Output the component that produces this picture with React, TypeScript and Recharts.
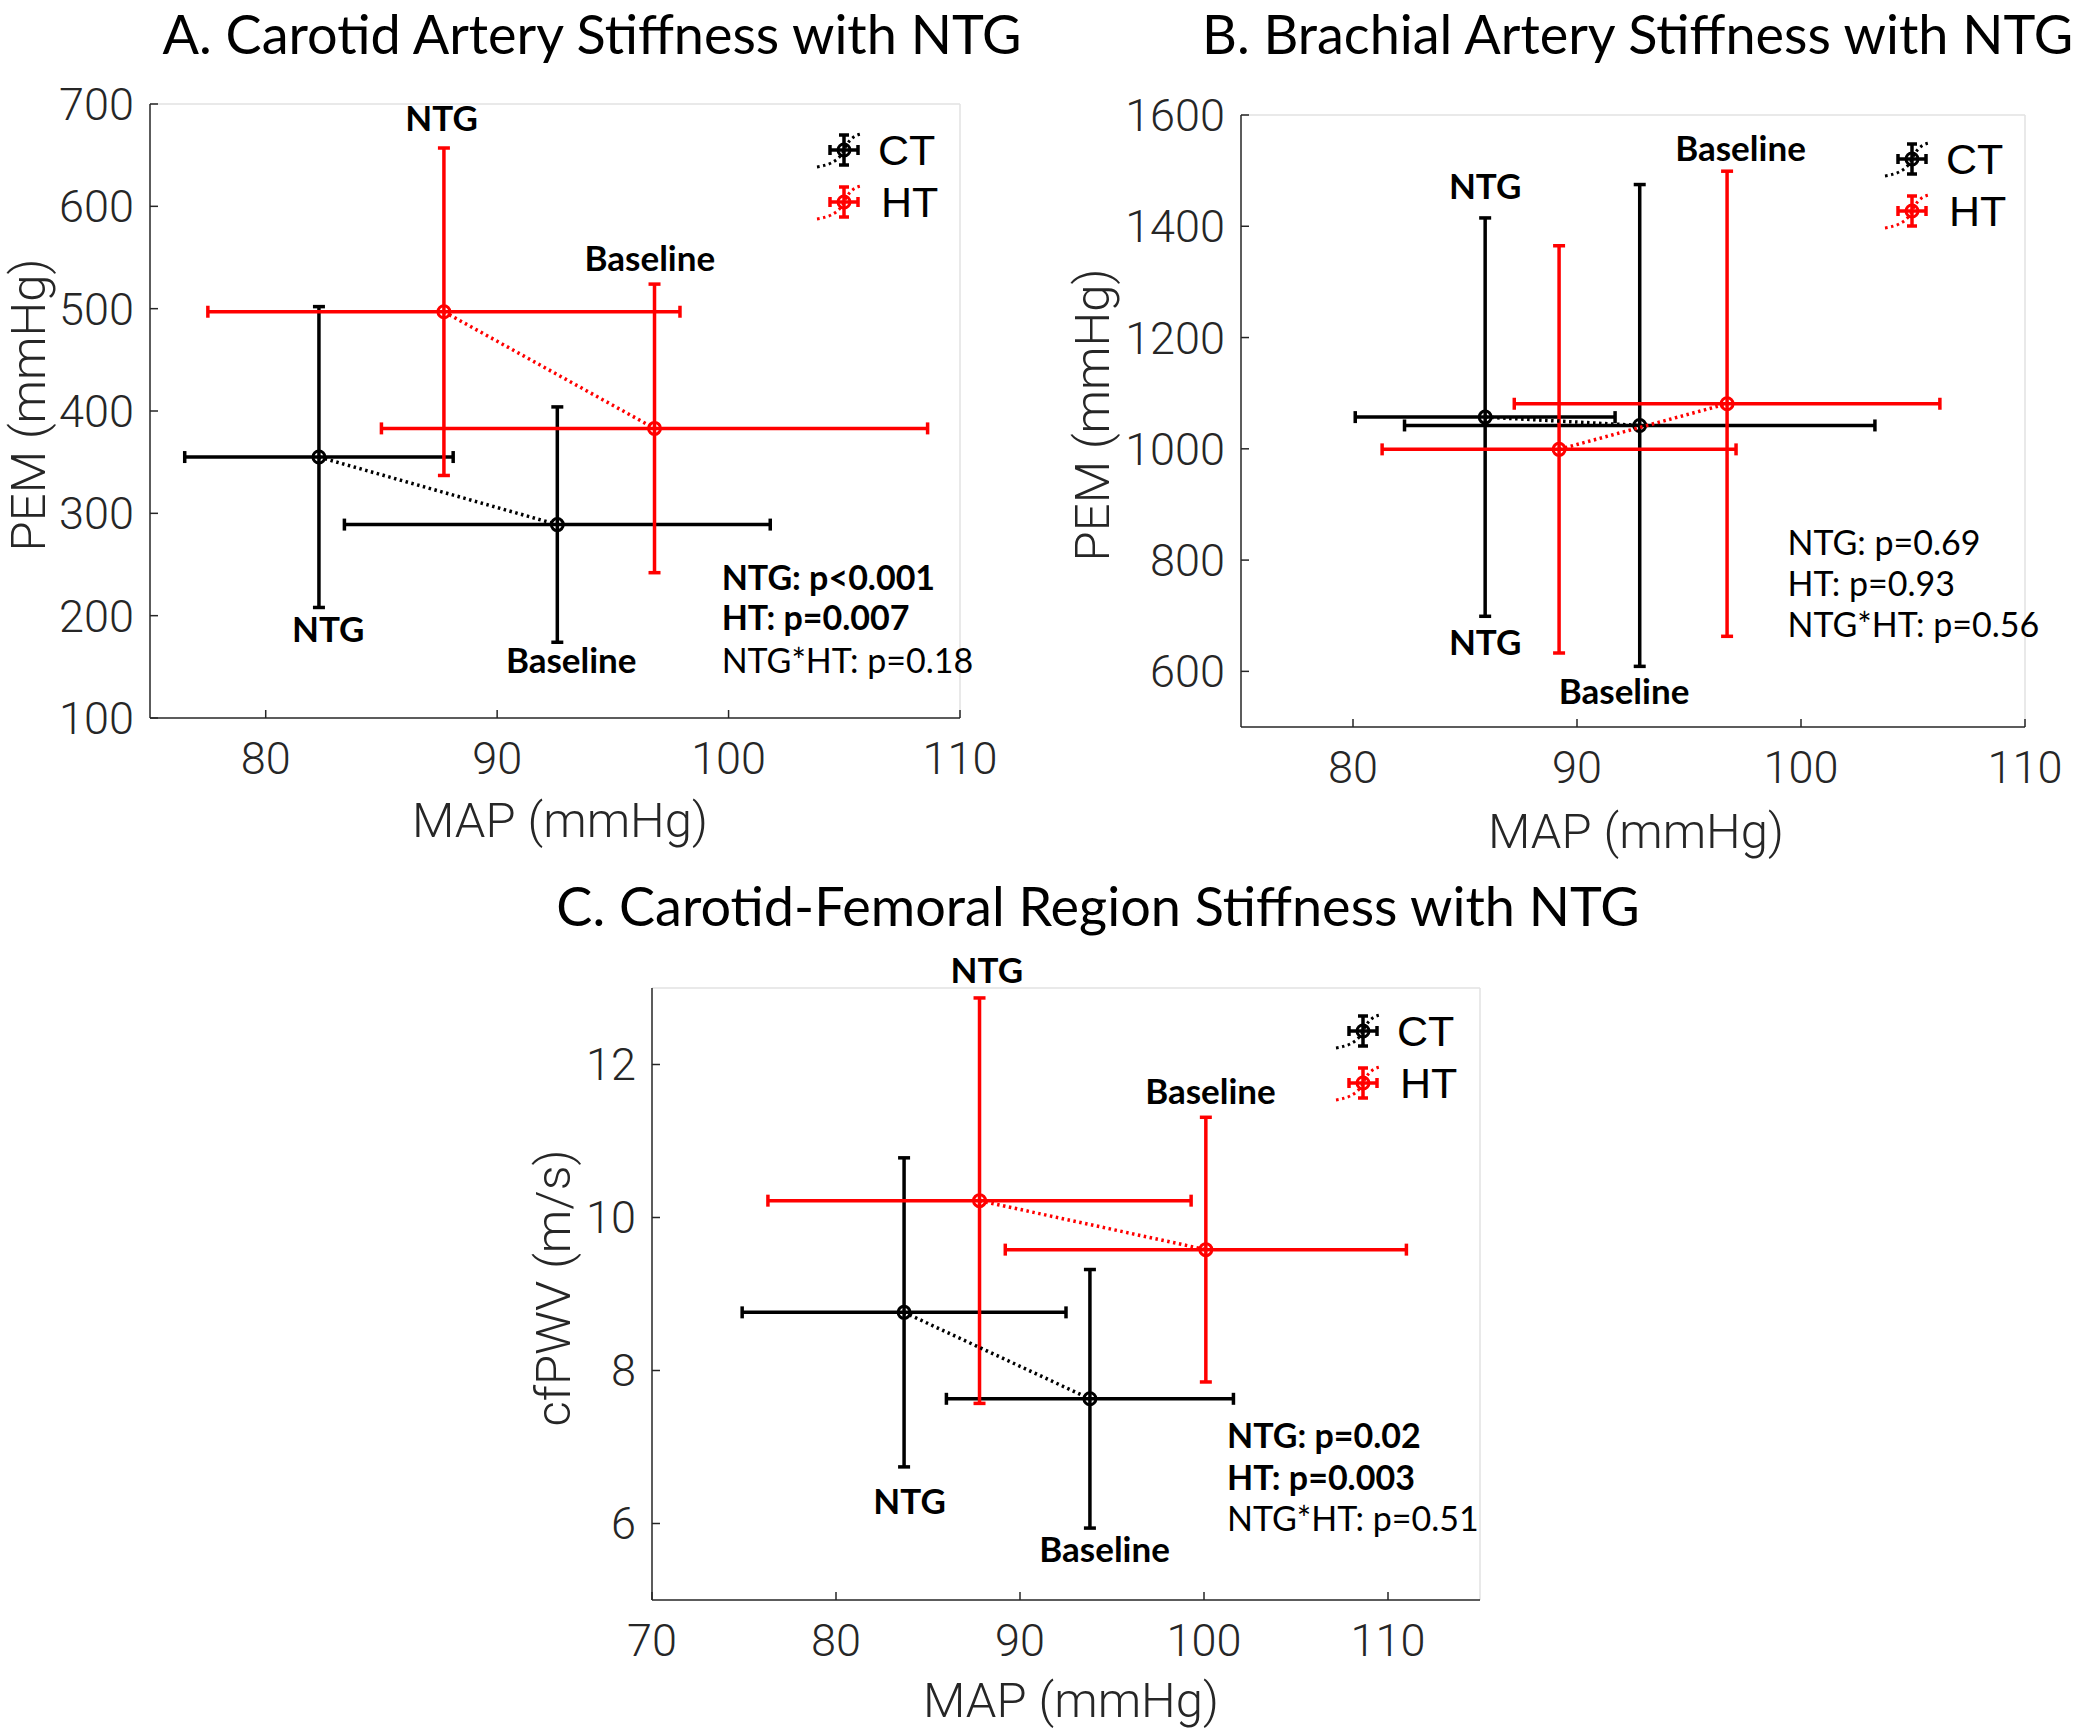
import React from 'react'
import { ScatterChart, Scatter, XAxis, YAxis, ErrorBar, ReferenceLine, ReferenceDot } from 'recharts'

const conditions = ['NTG', 'Baseline']

// A. carotid artery: MAP (mmHg) vs PEM (mmHg), mean and SD
const carotidCtMap = [82.3, 92.6]
const carotidCtMapSd = [5.8, 9.2]
const carotidCtPem = [355, 289]
const carotidCtPemSd = [147, 115]
const carotidHtMap = [87.7, 96.8]
const carotidHtMapSd = [10.2, 11.8]
const carotidHtPem = [497, 383]
const carotidHtPemSd = [160, 141]

// B. brachial artery
const brachialCtMap = [85.9, 92.8]
const brachialCtMapSd = [5.8, 10.5]
const brachialCtPem = [1057, 1042]
const brachialCtPemSd = [358, 433]
const brachialHtMap = [89.2, 96.7]
const brachialHtMapSd = [7.9, 9.5]
const brachialHtPem = [999, 1081]
const brachialHtPemSd = [366, 418]

// C. carotid-femoral PWV (m/s)
const cfCtMap = [83.7, 93.8]
const cfCtMapSd = [8.8, 7.8]
const cfCtPwv = [8.76, 7.63]
const cfCtPwvSd = [2.02, 1.69]
const cfHtMap = [87.8, 100.1]
const cfHtMapSd = [11.5, 10.9]
const cfHtPwv = [10.22, 9.58]
const cfHtPwvSd = [2.65, 1.73]

const carotidXTicks = [80, 90, 100, 110]
const carotidYTicks = [100, 200, 300, 400, 500, 600, 700]
const brachialXTicks = [80, 90, 100, 110]
const brachialYTicks = [600, 800, 1000, 1200, 1400, 1600]
const cfXTicks = [70, 80, 90, 100, 110]
const cfYTicks = [6, 8, 10, 12]

const carotidStats = ['NTG: p<0.001', 'HT: p=0.007', 'NTG*HT: p=0.18']
const carotidStatsBold = [true, true, false]
const brachialStats = ['NTG: p=0.69', 'HT: p=0.93', 'NTG*HT: p=0.56']
const brachialStatsBold = [false, false, false]
const cfStats = ['NTG: p=0.02', 'HT: p=0.003', 'NTG*HT: p=0.51']
const cfStatsBold = [true, true, false]

// where the condition labels and stats sit, in data units
const carotidMarks = [
  { text: 'NTG', x: 87.6, y: 686 },
  { text: 'Baseline', x: 96.6, y: 549 },
  { text: 'NTG', x: 82.7, y: 186 },
  { text: 'Baseline', x: 93.2, y: 156 },
]
const carotidStatsAt = { x: 99.7, y: [237, 198, 156] }
const brachialMarks = [
  { text: 'Baseline', x: 97.3, y: 1539 },
  { text: 'NTG', x: 85.9, y: 1472 },
  { text: 'NTG', x: 85.9, y: 652 },
  { text: 'Baseline', x: 92.1, y: 564 },
]
const brachialStatsAt = { x: 99.4, y: [830, 757, 683] }
const cfMarks = [
  { text: 'NTG', x: 88.2, y: 13.23 },
  { text: 'Baseline', x: 100.35, y: 11.65 },
  { text: 'NTG', x: 84.0, y: 6.29 },
  { text: 'Baseline', x: 94.6, y: 5.66 },
]
const cfStatsAt = { x: 101.25, y: [7.14, 6.59, 6.06] }

const RED = '#ff0000'
const BLACK = '#000000'
const AXIS = '#262626'
const TICK_FONT = 'Roboto, Liberation Sans, Arial, sans-serif'
const LEGEND_FONT = 'Liberation Sans, Arial, sans-serif'
const NOTE_FONT = 'Lato, Carlito, Open Sans, sans-serif'

const points = (map: number[], mapSd: number[], v: number[], vSd: number[]) =>
  conditions.map((c, i) => ({ cond: c, x: map[i], y: v[i], sx: mapSd[i], sy: vSd[i] }))

const ring = (color: string) => (p: any) => (
  <circle cx={p.cx} cy={p.cy} r={6} fill="none" stroke={color} strokeWidth={3} />
)

function Group({ data, color }: { data: any[]; color: string }) {
  return (
    <Scatter
      data={data}
      fill={color}
      shape={ring(color)}
      line={{ stroke: color, strokeWidth: 3.5, strokeDasharray: '2.5 3.5' }}
      lineType="joint"
      isAnimationActive={false}
    >
      <ErrorBar dataKey="sx" direction="x" width={6} stroke={color} strokeWidth={3.5} isAnimationActive={false} />
      <ErrorBar dataKey="sy" direction="y" width={6} stroke={color} strokeWidth={3.5} isAnimationActive={false} />
    </Scatter>
  )
}

function Panel(props: any) {
  const { box, margin, xDomain, xTicks, yDomain, yTicks, ct, ht, marks, stats, statsBold, statsAt } = props
  const tick = { fill: AXIS, fontSize: 45, fontFamily: TICK_FONT, fontWeight: 300 }
  return (
    <div style={{ position: 'absolute', left: box.left, top: box.top }}>
      <ScatterChart width={box.width} height={box.height} margin={margin}>
        <XAxis
          type="number"
          dataKey="x"
          domain={xDomain}
          ticks={xTicks}
          interval={0}
          height={60}
          tickSize={-8}
          tickMargin={32}
          stroke={AXIS}
          strokeWidth={1.5}
          tick={tick}
        />
        <YAxis
          type="number"
          dataKey="y"
          domain={yDomain}
          ticks={yTicks}
          interval={0}
          width={100}
          tickSize={-8}
          tickMargin={24}
          stroke={AXIS}
          strokeWidth={1.5}
          tick={tick}
        />
        <ReferenceLine x={xDomain[1]} stroke="#e2e2e2" strokeWidth={1.5} />
        <ReferenceLine y={yDomain[1]} stroke="#e2e2e2" strokeWidth={1.5} />
        <Group data={ct} color={BLACK} />
        <Group data={ht} color={RED} />
        {marks.map((m: any, i: number) => (
          <ReferenceDot
            key={'m' + i}
            x={m.x}
            y={m.y}
            r={0}
            ifOverflow="visible"
            label={{ value: m.text, position: 'center', fontSize: 35, fontWeight: 700, fontFamily: NOTE_FONT, fill: '#000' }}
          />
        ))}
        {stats.map((s: string, i: number) => (
          <ReferenceDot
            key={'s' + i}
            x={statsAt.x}
            y={statsAt.y[i]}
            r={0}
            ifOverflow="visible"
            label={{
              value: s,
              position: 'right',
              offset: 0,
              fontSize: 34,
              fontWeight: statsBold[i] ? 700 : 400,
              fontFamily: NOTE_FONT,
              fill: '#000',
            }}
          />
        ))}
      </ScatterChart>
    </div>
  )
}

function LegendGlyph({ cx, cy, color }: { cx: number; cy: number; color: string }) {
  return (
    <g transform={`translate(${cx},${cy})`} stroke={color} fill="none">
      <path d="M-27 17 Q -6 14 0 0 T 17 -16" strokeWidth={3} strokeDasharray="2.5 3.5" />
      <line x1={0} y1={-15} x2={0} y2={15} strokeWidth={3.5} />
      <line x1={-5} y1={-15} x2={5} y2={-15} strokeWidth={3.5} />
      <line x1={-5} y1={15} x2={5} y2={15} strokeWidth={3.5} />
      <line x1={-14} y1={0} x2={14} y2={0} strokeWidth={3.5} />
      <line x1={-14} y1={-5} x2={-14} y2={5} strokeWidth={3.5} />
      <line x1={14} y1={-5} x2={14} y2={5} strokeWidth={3.5} />
      <circle r={6} strokeWidth={3} />
    </g>
  )
}

function Legend({ x, y }: { x: number; y: number }) {
  return (
    <g>
      <LegendGlyph cx={x} cy={y} color={BLACK} />
      <text x={x + 34} y={y + 15} fontSize={43} fontFamily={LEGEND_FONT} fill="#000">CT</text>
      <LegendGlyph cx={x} cy={y + 52} color={RED} />
      <text x={x + 37} y={y + 67} fontSize={43} fontFamily={LEGEND_FONT} fill="#000">HT</text>
    </g>
  )
}

export default function App() {
  const carotidCt = points(carotidCtMap, carotidCtMapSd, carotidCtPem, carotidCtPemSd)
  const carotidHt = points(carotidHtMap, carotidHtMapSd, carotidHtPem, carotidHtPemSd)
  const brachialCt = points(brachialCtMap, brachialCtMapSd, brachialCtPem, brachialCtPemSd)
  const brachialHt = points(brachialHtMap, brachialHtMapSd, brachialHtPem, brachialHtPemSd)
  const cfCt = points(cfCtMap, cfCtMapSd, cfCtPwv, cfCtPwvSd)
  const cfHt = points(cfHtMap, cfHtMapSd, cfHtPwv, cfHtPwvSd)

  const titleStyle = { fontFamily: NOTE_FONT, fontSize: 54, fill: '#000' }
  const labelStyle = { fontFamily: TICK_FONT, fontSize: 49, fontWeight: 300, fill: AXIS }

  return (
    <div style={{ position: 'absolute', left: 0, top: 0, width: 2100, height: 1731, background: '#fff', overflow: 'hidden' }}>
      <Panel
        box={{ left: 0, top: 0, width: 1050, height: 860 }}
        margin={{ top: 104, right: 90, bottom: 82, left: 50 }}
        xDomain={[75, 110]}
        xTicks={carotidXTicks}
        yDomain={[100, 700]}
        yTicks={carotidYTicks}
        ct={carotidCt}
        ht={carotidHt}
        marks={carotidMarks}
        stats={carotidStats}
        statsBold={carotidStatsBold}
        statsAt={carotidStatsAt}
      />
      <Panel
        box={{ left: 1050, top: 0, width: 1050, height: 860 }}
        margin={{ top: 115, right: 75, bottom: 73, left: 91 }}
        xDomain={[75, 110]}
        xTicks={brachialXTicks}
        yDomain={[500, 1600]}
        yTicks={brachialYTicks}
        ct={brachialCt}
        ht={brachialHt}
        marks={brachialMarks}
        stats={brachialStats}
        statsBold={brachialStatsBold}
        statsAt={brachialStatsAt}
      />
      <Panel
        box={{ left: 500, top: 900, width: 1100, height: 831 }}
        margin={{ top: 88, right: 120, bottom: 71, left: 52 }}
        xDomain={[70, 115]}
        xTicks={cfXTicks}
        yDomain={[5, 13]}
        yTicks={cfYTicks}
        ct={cfCt}
        ht={cfHt}
        marks={cfMarks}
        stats={cfStats}
        statsBold={cfStatsBold}
        statsAt={cfStatsAt}
      />
      <svg width={2100} height={1731} style={{ position: 'absolute', left: 0, top: 0, pointerEvents: 'none' }}>
        <text x={592} y={54} textAnchor="middle" {...titleStyle}>A. Carotid Artery Stiffness with NTG</text>
        <text x={1202} y={54} {...titleStyle}>B. Brachial Artery Stiffness with NTG</text>
        <text x={1098} y={926} textAnchor="middle" {...titleStyle}>C. Carotid-Femoral Region Stiffness with NTG</text>

        <text x={560} y={837} textAnchor="middle" {...labelStyle}>MAP (mmHg)</text>
        <text transform="translate(45,405) rotate(-90)" textAnchor="middle" {...labelStyle}>PEM (mmHg)</text>
        <text x={1636} y={848} textAnchor="middle" {...labelStyle}>MAP (mmHg)</text>
        <text transform="translate(1109,415) rotate(-90)" textAnchor="middle" {...labelStyle}>PEM (mmHg)</text>
        <text x={1071} y={1717} textAnchor="middle" {...labelStyle}>MAP (mmHg)</text>
        <text transform="translate(570,1288) rotate(-90)" textAnchor="middle" {...labelStyle}>cfPWV (m/s)</text>

        <Legend x={844} y={150} />
        <Legend x={1912} y={159} />
        <Legend x={1363} y={1031} />
      </svg>
    </div>
  )
}
